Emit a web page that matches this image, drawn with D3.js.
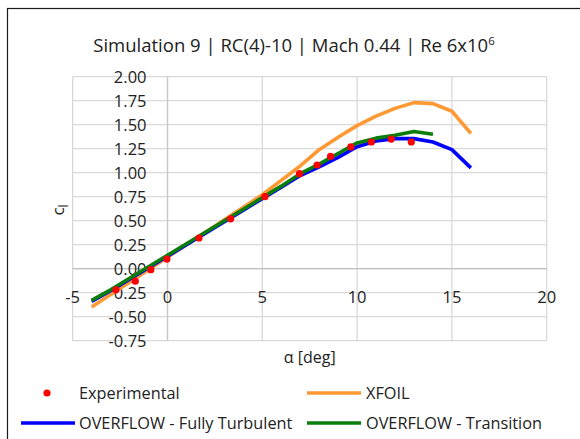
<!DOCTYPE html>
<html>
<head>
<meta charset="utf-8">
<script src="https://cdn.jsdelivr.net/npm/d3@7"></script>
<style>
  body { margin: 0; background: #fff; }
  svg { display: block; }
</style>
</head>
<body>
<div id="chart"></div>
<script>
// values
const expAlpha = [-2.72, -1.7, -0.88, -0.03, 1.66, 3.33, 5.14, 6.96, 7.89, 8.6, 9.67, 10.75, 11.8, 12.86];
const expCl = [-0.22, -0.13, -0.01, 0.10, 0.32, 0.52, 0.75, 0.99, 1.08, 1.17, 1.27, 1.32, 1.35, 1.32];

const xfoilAlpha = [-4, -3, -2, -1, 0, 1, 2, 3, 4, 5, 6, 7, 8, 9, 10, 11, 12, 13, 14, 15, 16];
const xfoilCl = [-0.40, -0.27, -0.14, -0.01, 0.12, 0.25, 0.38, 0.51, 0.64, 0.77, 0.92, 1.07, 1.24, 1.37, 1.49, 1.59, 1.67, 1.73, 1.72, 1.64, 1.41];

const turbAlpha = [-4, -3, -2, -1, 0, 1, 2, 3, 4, 5, 6, 7, 8, 9, 10, 11, 12, 13, 14, 15, 16];
const turbCl = [-0.34, -0.23, -0.11, 0.01, 0.13, 0.25, 0.37, 0.49, 0.61, 0.73, 0.85, 0.97, 1.06, 1.16, 1.27, 1.33, 1.355, 1.355, 1.32, 1.24, 1.05];

const transAlpha = [-4, -3, -2, -1, 0, 1, 2, 3, 4, 5, 6, 7, 8, 9, 10, 11, 12, 13, 14];
const transCl = [-0.33, -0.22, -0.10, 0.02, 0.14, 0.26, 0.38, 0.50, 0.62, 0.74, 0.86, 0.99, 1.09, 1.20, 1.31, 1.36, 1.39, 1.43, 1.40];

const xTicks = [-5, 0, 5, 10, 15, 20];
const yTicks = [-0.75, -0.5, -0.25, 0, 0.25, 0.5, 0.75, 1, 1.25, 1.5, 1.75, 2];

const legendNames = ["Experimental", "XFOIL", "OVERFLOW - Fully Turbulent", "OVERFLOW - Transition"];

const width = 580, height = 439;
const font = "'Open Sans', sans-serif";

const x = d3.scaleLinear().domain([-5, 20]).range([72.7, 546.7]);
const y = d3.scaleLinear().domain([-0.75, 2]).range([340.7, 76.7]);

const svg = d3.select("#chart").append("svg")
    .attr("width", width)
    .attr("height", height)
    .attr("font-family", font);

// chart border (only top and left are inside the picture)
svg.append("rect")
    .attr("x", 7.5).attr("y", 8.5)
    .attr("width", 600).attr("height", 460)
    .attr("fill", "none")
    .attr("stroke", "#1a1a1a")
    .attr("stroke-width", 1.2);

// title
const title = svg.append("text")
    .attr("x", 294).attr("y", 52)
    .attr("text-anchor", "middle")
    .attr("font-size", 18.5)
    .attr("fill", "#222");
title.append("tspan").text("Simulation 9 | RC(4)-10 | Mach 0.44 | Re 6x10");
title.append("tspan").attr("dy", -7).attr("font-size", 11.5).text("6");

// grid
const grid = svg.append("g").attr("stroke", "#d9d9d9").attr("stroke-width", 1.3);
grid.selectAll("line.h")
    .data(yTicks)
    .join("line")
    .attr("x1", x(-5)).attr("x2", x(20))
    .attr("y1", d => y(d)).attr("y2", d => y(d));
grid.selectAll("line.v")
    .data(xTicks)
    .join("line")
    .attr("class", "v")
    .attr("y1", y(-0.75)).attr("y2", y(2))
    .attr("x1", d => x(d)).attr("x2", d => x(d));

// axes through zero
svg.append("line")
    .attr("x1", x(-5)).attr("x2", x(20))
    .attr("y1", y(0)).attr("y2", y(0))
    .attr("stroke", "#bfbfbf").attr("stroke-width", 1.3);
svg.append("line")
    .attr("x1", x(0)).attr("x2", x(0))
    .attr("y1", y(-0.75)).attr("y2", y(2))
    .attr("stroke", "#c8c8c8").attr("stroke-width", 1.3);

// tick labels
svg.append("g")
    .selectAll("text")
    .data(yTicks)
    .join("text")
    .attr("x", x(0) - 21)
    .attr("y", d => y(d))
    .attr("dy", "0.36em")
    .attr("text-anchor", "end")
    .attr("font-size", 16.5)
    .attr("fill", "#222")
    .text(d => d3.format(".2f")(d).replace("−", "-"));

svg.append("g")
    .selectAll("text")
    .data(xTicks)
    .join("text")
    .attr("x", d => x(d))
    .attr("y", y(0) + 28)
    .attr("dy", "0.36em")
    .attr("text-anchor", "middle")
    .attr("font-size", 16.5)
    .attr("fill", "#222")
    .text(d => String(d));

// axis titles
svg.append("text")
    .attr("x", x(7.5)).attr("y", 363)
    .attr("text-anchor", "middle")
    .attr("font-size", 16)
    .attr("fill", "#222")
    .text("α [deg]");

const ytitle = svg.append("text")
    .attr("transform", "translate(64,210) rotate(-90)")
    .attr("text-anchor", "middle")
    .attr("font-size", 17)
    .attr("fill", "#222");
ytitle.append("tspan").text("c");
ytitle.append("tspan").attr("dy", 4).attr("font-size", 12).text("l");

// series
const line = d3.line().x(d => x(d[0])).y(d => y(d[1]));
const series = [
    { a: xfoilAlpha, c: xfoilCl, color: "#ff9933" },
    { a: turbAlpha, c: turbCl, color: "#0000ff" },
    { a: transAlpha, c: transCl, color: "#0a7d0a" },
];
svg.append("g")
    .attr("fill", "none")
    .attr("stroke-width", 3.6)
    .attr("stroke-linejoin", "round")
    .selectAll("path")
    .data(series)
    .join("path")
    .attr("stroke", d => d.color)
    .attr("d", d => line(d3.zip(d.a, d.c)));

svg.append("g")
    .selectAll("circle")
    .data(d3.zip(expAlpha, expCl))
    .join("circle")
    .attr("cx", d => x(d[0]))
    .attr("cy", d => y(d[1]))
    .attr("r", 3.6)
    .attr("fill", "#ff0000");

// legend
const legendColors = ["#ff0000", "#ff9933", "#0000ff", "#0a7d0a"];
const legendX = [21, 307];
const legendY = [393, 423];
const lg = svg.append("g")
    .selectAll("g")
    .data(legendNames)
    .join("g")
    .attr("transform", (d, i) => `translate(${legendX[i % 2]},${legendY[Math.floor(i / 2)]})`);
lg.filter((d, i) => i === 0).append("circle")
    .attr("cx", 26).attr("r", 3.6).attr("fill", legendColors[0]);
lg.filter((d, i) => i > 0).append("line")
    .attr("x1", 0).attr("x2", 54)
    .attr("stroke", (d, i) => legendColors[i + 1])
    .attr("stroke-width", 3.6);
lg.append("text")
    .attr("x", (d, i) => i % 2 === 0 ? 58 : 59)
    .attr("dy", "0.36em")
    .attr("font-size", 16.3)
    .attr("fill", "#222")
    .text(d => d);
</script>
</body>
</html>
